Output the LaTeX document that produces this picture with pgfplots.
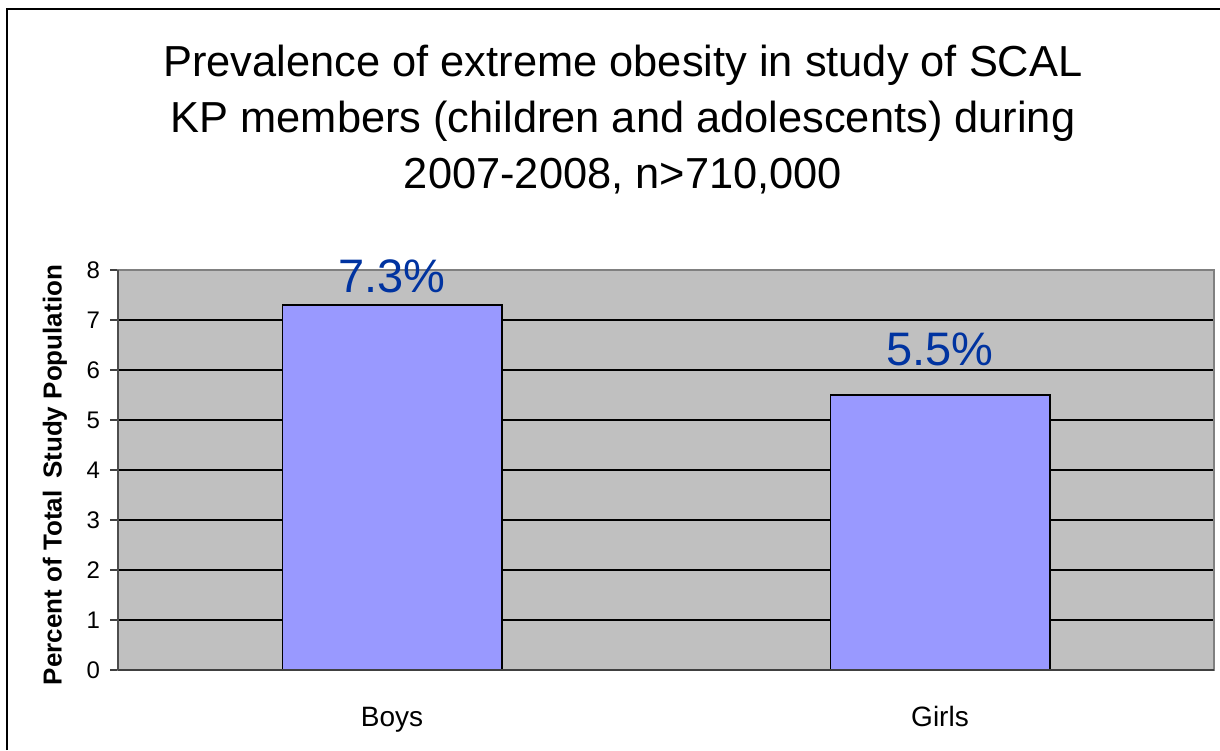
\documentclass[border=0pt]{standalone}
\usepackage{pgfplots}
\pgfplotsset{compat=1.18}
\usepackage{fontspec}
\setmainfont{Liberation Sans}
\definecolor{barfill}{HTML}{9999FF}
\definecolor{plotbg}{HTML}{C0C0C0}
\definecolor{lbl}{HTML}{0033A0}
\definecolor{axdark}{HTML}{404040}
\definecolor{axgray}{HTML}{808080}
\begin{document}
\begin{tikzpicture}
\useasboundingbox (0,0) rectangle (610pt,375pt);
\draw[line width=1pt] (3.5pt,0) -- (3.5pt,370.5pt) -- (610pt,370.5pt);
\node[anchor=base, inner sep=0pt, font=\fontsize{21.7}{25}\selectfont] at (311.5pt,336.5pt) {Prevalence of extreme obesity in study of SCAL};
\node[anchor=base, inner sep=0pt, font=\fontsize{21.7}{25}\selectfont] at (311.5pt,308.5pt) {KP members (children and adolescents) during};
\node[anchor=base, inner sep=0pt, font=\fontsize{21.7}{25}\selectfont] at (311.5pt,280.5pt) {2007-2008, n>710,000};
\node[rotate=90, inner sep=0pt, font=\bfseries\fontsize{13}{15}\selectfont] at (27.5pt,137.5pt) {Percent of Total\hspace{0.45em}Study Population};
\begin{axis}[
  at={(59pt,40pt)}, anchor=south west,
  scale only axis, width=548pt, height=200pt,
  xmin=-0.5, xmax=1.5, ymin=0, ymax=8,
  ybar, bar width=0.4,
  axis background/.style={fill=plotbg},
  axis line style={axgray, line width=1pt},
  ytick={0,1,...,8},
  ytick pos=left, xtick pos=bottom,
  tick align=outside,
  major tick length=4pt,
  tick style={axdark, line width=0.8pt},
  ymajorgrids,
  grid style={black, line width=0.6pt},
  xtick={0,1},
  xticklabels={Boys,Girls},
  x tick style={draw=none},
  extra x ticks={-0.5,0.5,1.5},
  extra x tick labels={},
  extra x tick style={x tick style={axdark, line width=0.8pt}, major tick length=4pt, grid=none},
  /pgf/number format/assume math mode=true,
  tick label style={font=\fontsize{12}{14}\selectfont},
  y tick label style={xshift=-1.5pt},
  x tick label style={font=\fontsize{14}{16}\selectfont, anchor=base, yshift=-24pt},
  clip=false,
]
\addplot[fill=barfill, draw=black, line width=0.9pt] coordinates {(0,7.3) (1,5.5)};
\draw[axdark, line width=1pt] (rel axis cs:0,0) -- (rel axis cs:1,0);
\draw[axdark!80!axgray, line width=1pt] (rel axis cs:0,0) -- (rel axis cs:0,1);
\node[anchor=base, inner sep=0pt, text=lbl, font=\fontsize{23.5}{27}\selectfont, yshift=6pt] at (axis cs:0,7.3) {7.3\%};
\node[anchor=base, inner sep=0pt, text=lbl, font=\fontsize{23.5}{27}\selectfont, yshift=15pt] at (axis cs:1,5.5) {5.5\%};
\end{axis}
\end{tikzpicture}
\end{document}
